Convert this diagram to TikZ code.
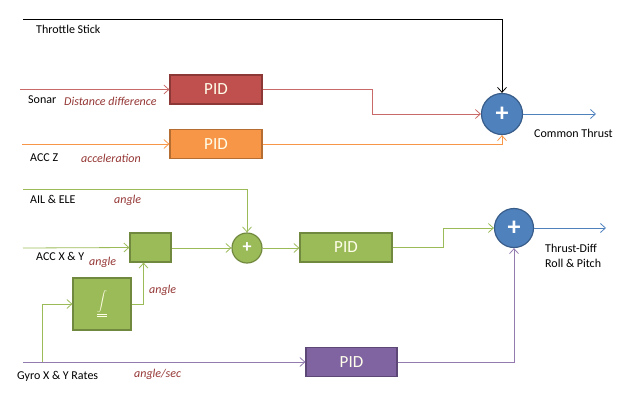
\documentclass[tikz,border=0pt]{standalone}
\usepackage{fontspec}
\setmainfont{Carlito}
\usepackage{tikz}
\usetikzlibrary{positioning,arrows.meta}

\definecolor{redfill}{HTML}{C0504D}
\definecolor{redline}{HTML}{8C3836}
\definecolor{orfill}{HTML}{F79646}
\definecolor{orline}{HTML}{B66D31}
\definecolor{grfill}{HTML}{9BBB59}
\definecolor{grline}{HTML}{71893F}
\definecolor{pufill}{HTML}{8064A2}
\definecolor{puline}{HTML}{5C4776}
\definecolor{blfill}{HTML}{4F81BD}
\definecolor{blline}{HTML}{385D8A}
\definecolor{unitcol}{HTML}{943634}

\tikzset{
  pidbox/.style={draw, line width=1.2pt, minimum width=92pt, minimum height=29pt,
    inner sep=0pt, text=white!92!yellow, font=\fontsize{17}{17}\selectfont},
  sumnode/.style={circle, draw, line width=1.2pt, inner sep=0pt, text=white,
    font=\fontsize{26}{26}\selectfont\bfseries},
  sig/.style={line width=0.8pt, -{Straight Barb[length=5pt,width=9pt]}},
  plain/.style={line width=0.8pt},
  lbl/.style={anchor=west, inner sep=0pt, font=\fontsize{12}{14}\selectfont},
  unit/.style={lbl, text=unitcol, font=\fontsize{12}{14}\selectfont\itshape}
}

\begin{document}
\begin{tikzpicture}[x=1pt,y=-1pt]
  \useasboundingbox (0,0) rectangle (628,413);

  % upper loop: altitude
  \node [pidbox, fill=redfill, draw=redline] (pidS) at (216,89.5) {PID};
  \node [pidbox, fill=orfill, draw=orline] (pidZ) at (216,144) {PID};
  \node [sumnode, fill=blfill, draw=blline, minimum size=41pt] (sumT) at (502,114) {+};

  \coordinate (thr) at (23,19);
  \coordinate (son) at (20,89.5);
  \coordinate (accz) at (22,144);
  \coordinate (outT) at (596,114);

  \draw [sig, black] (thr) -| (sumT.north);
  \draw [sig, redfill!85] (son) -- (pidS.west);
  \draw [sig, redfill!85] (pidS.east) -- (372,89.5) |- (sumT.west);
  \draw [sig, orfill] (accz) -- (pidZ.west);
  \draw [sig, orfill] (pidZ.east) -| (sumT.south);
  \draw [sig, blfill] (sumT.east) -- (outT);

  \node [lbl] (tThr) at (36,29) {Throttle Stick};
  \node [lbl] (tSon) at (28,100) {Sonar};
  \node [unit] (uSon) at (64,101) {Distance difference};
  \node [lbl] (tAccz) at (30,158) {ACC Z};
  \node [unit] (uAccz) at (81,158) {acceleration};
  \node [lbl] (tOutT) at (534,133) {Common Thrust};

  % lower loop: attitude
  \node [draw=grline, fill=grfill, line width=1.2pt, minimum width=41pt,
    minimum height=29pt, inner sep=0pt] (fuse) at (150.5,247.5) {};
  \node [draw=grline, fill=grfill, line width=1.2pt, minimum width=58pt,
    minimum height=52pt, inner sep=0pt, text=white!90!yellow,
    font=\fontsize{14}{14}\selectfont] (integ) at (102,304)
    {$\displaystyle\underline{\underline{\int}}$};
  \node [sumnode, fill=grfill, draw=grline, minimum size=30pt,
    font=\fontsize{18}{18}\selectfont\bfseries] (sumA) at (247,248) {+};
  \node [pidbox, fill=grfill, draw=grline] (pidA) at (346,247.5) {PID};
  \node [pidbox, fill=pufill, draw=puline, minimum width=91pt] (pidG) at (351.5,362) {PID};
  \node [sumnode, fill=blfill, draw=blline, minimum size=39pt] (sumD) at (514,228) {+};

  \coordinate (ail) at (23,189);
  \coordinate (accxy) at (23,248);
  \coordinate (gyro) at (23,362);
  \coordinate (tap) at (42,362);
  \coordinate (outD) at (606,228);

  \draw [sig, grfill] (ail) -| (sumA.north);
  \draw [sig, grfill] (accxy) -- (fuse.west);
  \draw [sig, grfill] (fuse.east |- sumA.west) -- (sumA.west);
  \draw [sig, grfill] (sumA.east) -- (pidA.west |- sumA.east);
  \draw [sig, grfill] (pidA.east) -- (443,247.5) |- (sumD.west);
  \draw [sig, pufill!85] (gyro) -- (pidG.west);
  \draw [sig, grfill] (tap) |- (integ.west);
  \draw [sig, grfill] (integ.east) -| ([xshift=-7pt]fuse.south);
  \draw [sig, pufill!85] (pidG.east) -| (sumD.south);
  \draw [sig, blfill] (sumD.east) -- (outD);

  \node [lbl] (tAil) at (30,199) {AIL \& ELE};
  \node [unit] (uAil) at (114,200) {angle};
  \node [lbl] (tAccxy) at (36,256) {ACC X \& Y};
  \node [unit] (uAccxy) at (89,262) {angle};
  \node [unit] (uInteg) at (149,290) {angle};
  \node [lbl] (tGyro) at (17,376) {Gyro X \& Y Rates};
  \node [unit] (uGyro) at (134,374) {angle/sec};
  \node [lbl, align=left, font=\fontsize{12}{15}\selectfont] (tOutD) at (545,255.5)
    {Thrust-Diff\\Roll \& Pitch};
\end{tikzpicture}
\end{document}
